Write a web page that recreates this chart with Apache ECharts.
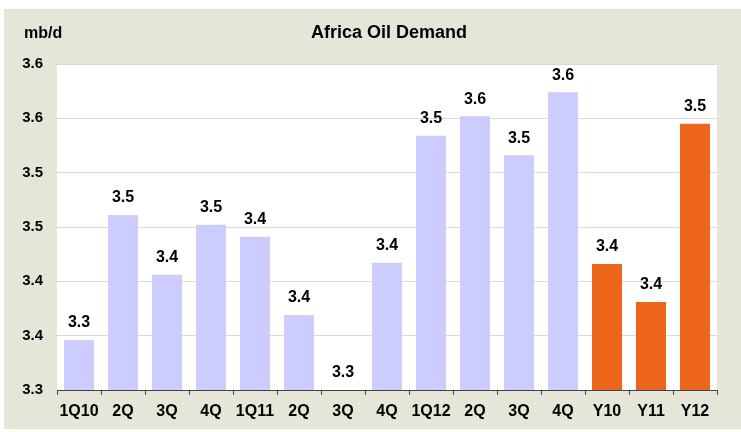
<!DOCTYPE html>
<html>
<head>
<meta charset="utf-8">
<script src="https://cdn.jsdelivr.net/npm/echarts@6/dist/echarts.min.js"></script>
<style>
  html, body { margin: 0; padding: 0; background: #fff; }
  #chart { width: 741px; height: 432px; }
</style>
</head>
<body>
<div id="chart"></div>
<script>
// quarterly + yearly Africa oil demand, mb/d
const quarterCats = ['1Q10', '2Q', '3Q', '4Q', '1Q11', '2Q', '3Q', '4Q', '1Q12', '2Q', '3Q', '4Q'];
const quarterValues = [3.346, 3.461, 3.406, 3.452, 3.441, 3.369, 3.30, 3.417, 3.534, 3.552, 3.516, 3.574];
const yearCats = ['Y10', 'Y11', 'Y12'];
const yearValues = [3.416, 3.381, 3.545];
const yTickLabels = ['3.3', '3.4', '3.4', '3.5', '3.5', '3.6', '3.6'];

const font = 'Liberation Sans, Arial, sans-serif';
const quarterColor = '#CCCCFF';
const yearColor = '#EC651A';

const categories = quarterCats.concat(yearCats);
const barData = quarterValues.map(v => ({ value: v, itemStyle: { color: quarterColor } }))
  .concat(yearValues.map(v => ({ value: v, itemStyle: { color: yearColor } })));

const chart = echarts.init(document.getElementById('chart'));

chart.setOption({
  animation: false,
  backgroundColor: '#fff',
  graphic: [{
    type: 'rect',
    z: -10,
    silent: true,
    shape: { x: 4, y: 9, width: 737, height: 420 },
    style: { fill: '#E6E6D8' }
  }],
  title: [{
    text: 'Africa Oil Demand',
    left: 311,
    top: 24,
    padding: 0,
    textStyle: { fontFamily: font, fontSize: 18, fontWeight: 'bold', color: '#000' }
  }, {
    text: 'mb/d',
    left: 24,
    top: 26,
    padding: 0,
    textStyle: { fontFamily: font, fontSize: 16, fontWeight: 'bold', color: '#000' }
  }],
  grid: {
    left: 57,
    right: 24,
    top: 64,
    bottom: 42,
    show: true,
    backgroundColor: '#fff',
    borderWidth: 0
  },
  xAxis: {
    type: 'category',
    data: categories,
    axisLine: { lineStyle: { color: '#444', width: 1 } },
    axisTick: { show: true, length: 5, lineStyle: { color: '#444' } },
    axisLabel: {
      interval: 0,
      margin: 14,
      fontFamily: font,
      fontSize: 16,
      fontWeight: 'bold',
      color: '#000'
    }
  },
  yAxis: {
    type: 'value',
    min: 3.3,
    max: 3.6,
    interval: 0.05,
    axisLine: { show: false },
    axisTick: { show: true, length: 5, lineStyle: { color: '#DADADA' } },
    splitLine: { lineStyle: { color: '#DADADA', width: 1 } },
    axisLabel: {
      margin: 14,
      fontFamily: font,
      fontSize: 15,
      fontWeight: 'bold',
      color: '#000',
      formatter: v => yTickLabels[Math.round((v - 3.3) / 0.05)]
    }
  },
  series: [{
    type: 'bar',
    data: barData,
    barWidth: 30,
    label: {
      show: true,
      position: 'top',
      distance: 9,
      fontFamily: font,
      fontSize: 16,
      fontWeight: 'bold',
      color: '#000',
      formatter: p => p.value.toFixed(1)
    }
  }]
});
</script>
</body>
</html>
